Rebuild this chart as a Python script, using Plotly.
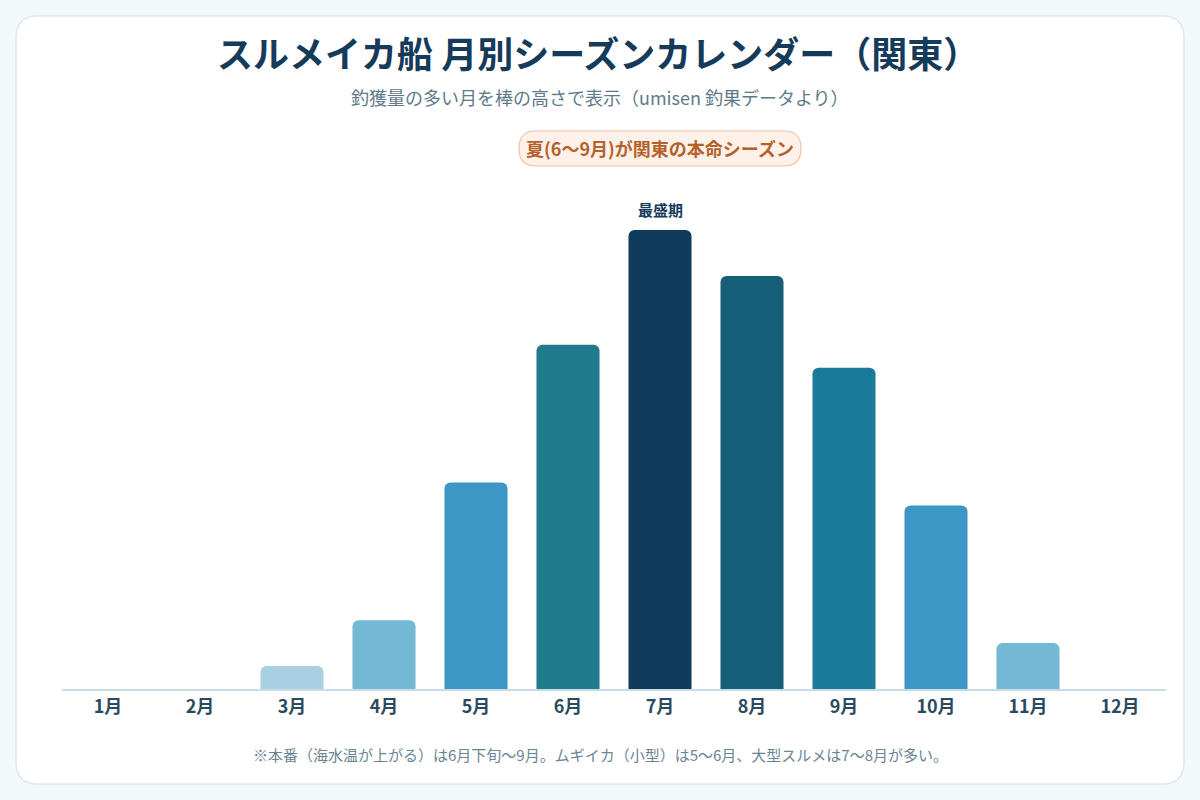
import plotly.graph_objects as go

months = ["1月", "2月", "3月", "4月", "5月", "6月", "7月", "8月", "9月", "10月", "11月", "12月"]
catch_index = [0, 0, 5, 15, 45, 75, 100, 90, 70, 40, 10, 0]
bar_colors = ["#a9cfe2", "#a9cfe2", "#a9cfe2", "#74b8d6", "#3d97c4", "#1e7a8c",
              "#0f3a5c", "#155f7a", "#1a7a9a", "#3d97c4", "#74b8d6", "#a9cfe2"]

title_text = "スルメイカ船 月別シーズンカレンダー（関東）"
subtitle_text = "釣獲量の多い月を棒の高さで表示（umisen 釣果データより）"
badge_text = "夏(6〜9月)が関東の本命シーズン"
peak_label = "最盛期"
footnote_text = "※本番（海水温が上がる）は6月下旬〜9月。ムギイカ（小型）は5〜6月、大型スルメは7〜8月が多い。"

W, H = 1200, 800
ML, MR, MT, MB = 62, 34, 200, 111
PW = W - ML - MR
PH = H - MT - MB
FONT = "Noto Sans CJK JP"


def py(Y):
    return (H - MB - Y) / PH


def px(X):
    return (X - ML) / PW


def rr_path(x0, y0, x1, y1, r):
    # screen pixels (y down) -> offsets from paper(0,0) anchor (y up)
    def p(X, Y):
        return f"{X - ML},{(H - MB) - Y}"
    return (f"M{p(x0 + r, y0)} L{p(x1 - r, y0)} Q{p(x1, y0)} {p(x1, y0 + r)} "
            f"L{p(x1, y1 - r)} Q{p(x1, y1)} {p(x1 - r, y1)} "
            f"L{p(x0 + r, y1)} Q{p(x0, y1)} {p(x0, y1 - r)} "
            f"L{p(x0, y0 + r)} Q{p(x0, y0)} {p(x0 + r, y0)} Z")


fig = go.Figure()
fig.add_trace(go.Bar(
    x=months, y=catch_index,
    marker=dict(color=bar_colors, cornerradius=6, line=dict(width=0)),
    hoverinfo="skip",
))

shape_common = dict(xref="paper", yref="paper", xsizemode="pixel", ysizemode="pixel",
                    xanchor=0, yanchor=0, layer="below")
fig.add_shape(type="path", path=rr_path(16, 16, 1184, 784, 22),
              fillcolor="#ffffff", line=dict(color="#dce8ee", width=1.5), **shape_common)
fig.add_shape(type="path", path=rr_path(519, 131, 801, 166, 17),
              fillcolor="#fdf1ea", line=dict(color="#f0c3a6", width=1.2), **shape_common)

fig.add_annotation(text=f"<b>{title_text}</b>", xref="paper", yref="paper",
                   x=px(598), y=py(52), xanchor="center", yanchor="middle", showarrow=False,
                   font=dict(family=FONT, size=36, color="#163a5a"))
fig.add_annotation(text=subtitle_text, xref="paper", yref="paper",
                   x=px(600), y=py(97), xanchor="center", yanchor="middle", showarrow=False,
                   font=dict(family=FONT, size=18, color="#5d7a8a"))
fig.add_annotation(text=f"<b>{badge_text}</b>", xref="x", yref="paper",
                   x="7月", y=py(148), xanchor="center", yanchor="middle", showarrow=False,
                   font=dict(family=FONT, size=18, color="#b5622a"))
fig.add_annotation(text=f"<b>{peak_label}</b>", xref="x", yref="y",
                   x="7月", y=max(catch_index), yshift=8, xanchor="center", yanchor="bottom",
                   showarrow=False, font=dict(family=FONT, size=15, color="#163a5a"))
fig.add_annotation(text=footnote_text, xref="paper", yref="paper",
                   x=px(600), y=py(754), xanchor="center", yanchor="middle", showarrow=False,
                   font=dict(family=FONT, size=15, color="#6a8494"))

fig.update_layout(
    width=W, height=H,
    margin=dict(l=ML, r=MR, t=MT, b=MB),
    paper_bgcolor="#f3f8fb", plot_bgcolor="rgba(0,0,0,0)",
    bargap=0.315, showlegend=False,
    font=dict(family=FONT),
    xaxis=dict(type="category", showgrid=False, zeroline=False, showline=True,
               linecolor="#c8dce5", linewidth=2, ticks="", fixedrange=True,
               tickfont=dict(family=FONT, size=18, color="#2c4a5e", weight="bold")),
    yaxis=dict(range=[0, PH / 4.59], visible=False, showgrid=False, zeroline=False, fixedrange=True),
)

fig.write_html("out.html", config={"displayModeBar": False})
